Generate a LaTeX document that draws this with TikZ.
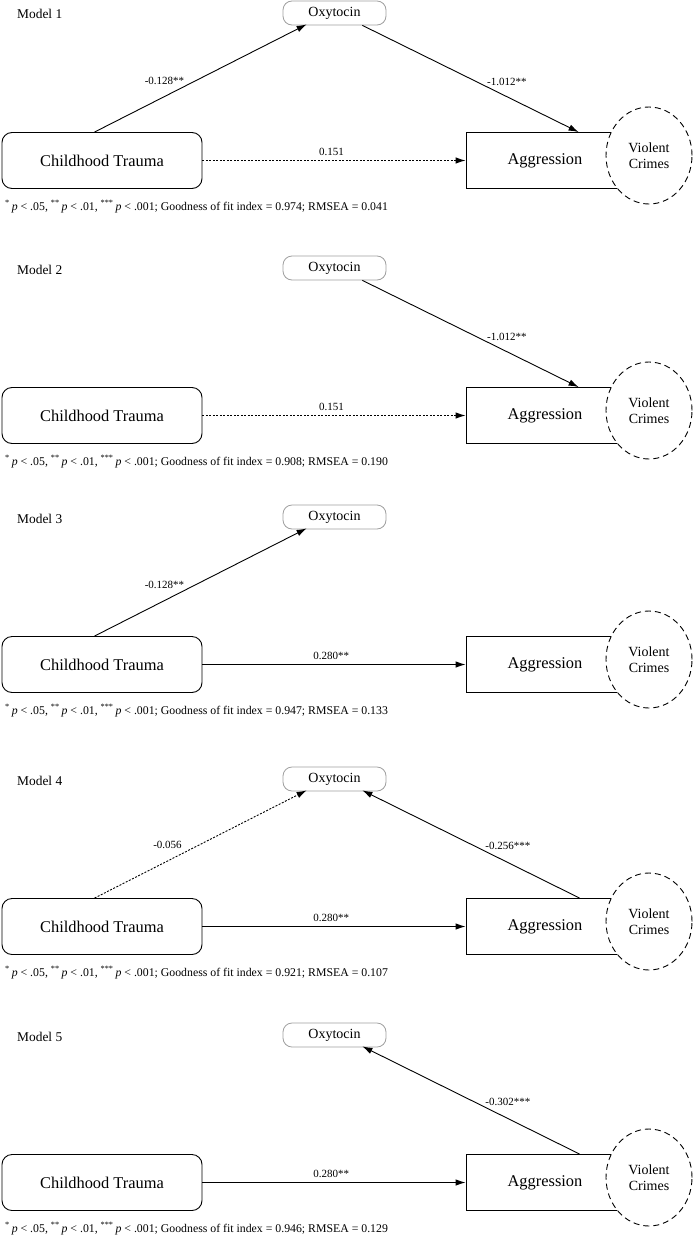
\documentclass[tikz,border=0pt]{standalone}
\usepackage{fontspec}
\setmainfont{Liberation Serif}
\newfontfamily\tnr{Liberation Serif}
\usetikzlibrary{arrows.meta,shapes.geometric,calc}
\tikzset{
  oxy/.style={draw=gray!75, line width=0.8pt, rounded corners=9pt, minimum width=103pt, minimum height=24pt, inner sep=0pt, font=\tnr\fontsize{14}{16}\selectfont},
  ctbox/.style={draw, line width=0.9pt, rounded corners=10pt, minimum width=200pt, minimum height=56pt, inner sep=0pt, font=\tnr\fontsize{16.4}{19}\selectfont},
  aggbox/.style={draw, line width=0.9pt, minimum width=158pt, minimum height=56pt, inner sep=0pt, font=\tnr\fontsize{16.4}{19}\selectfont},
  vc/.style={draw, ellipse, line width=0.9pt, dash pattern=on 6pt off 4pt, fill=white, minimum width=86pt, minimum height=97pt, inner sep=0pt, align=center, font=\tnr\fontsize{14}{16}\selectfont},
  lbl/.style={font=\tnr\fontsize{11}{13}\selectfont, inner sep=0pt},
  arr/.style={-{Latex[length=10pt,width=6.5pt]}, line width=0.9pt},
  dotline/.style={dash pattern=on 2pt off 1.5pt},
  foot/.style={anchor=base west, inner sep=0pt, font=\tnr\fontsize{11.8}{13}\selectfont},
  modellbl/.style={anchor=base west, inner sep=0pt, font=\tnr\fontsize{13.4}{16}\selectfont}
}
\newcommand{\semmodel}[4]{%
  \node[modellbl] (m#1) at (17,#2+6) {Model #1};
  \node[oxy] (oxy#1) at (334.5,#2) {Oxytocin};
  \node[ctbox] (ct#1) at (102,#2+147.5) {Childhood Trauma};
  \node[aggbox] (agg#1) at (545,#2+147.5) {Aggression};
  \node[vc] (vc#1) at (649,#2+142.5) {Violent\\Crimes};
  \node[foot] (f#1) at (5,#2+197) {\textsuperscript{*}\,\textit{p} < .05, \textsuperscript{**}\,\textit{p} < .01, \textsuperscript{***}\,\textit{p} < .001; Goodness of fit index = #3; RMSEA = #4};
}
\begin{document}
\begin{tikzpicture}[x=1pt,y=-1pt]
\useasboundingbox[fill=white] (0,0) rectangle (693,1239);

% Model 1
\semmodel{1}{13}{0.974}{0.041}
\draw[arr] ($(ct1.north west)+(93,0)$) -- node[lbl,pos=0.33,yshift=16pt]{-0.128**} ($(oxy1.south west)+(24,-1)$);
\draw[arr] ($(oxy1.south east)+(-24,0)$) -- node[lbl,pos=0.668,yshift=15pt]{-1.012**} ($(agg1.north west)+(113,0)$);
\draw[arr,dotline] (ct1.east) -- node[lbl,pos=0.49,yshift=9pt]{0.151} (agg1.west);

% Model 2
\semmodel{2}{268}{0.908}{0.190}
\draw[arr] ($(oxy2.south east)+(-24,0)$) -- node[lbl,pos=0.668,yshift=15pt]{-1.012**} ($(agg2.north west)+(113,0)$);
\draw[arr,dotline] (ct2.east) -- node[lbl,pos=0.49,yshift=9pt]{0.151} (agg2.west);

% Model 3
\semmodel{3}{517}{0.947}{0.133}
\draw[arr] ($(ct3.north west)+(93,0)$) -- node[lbl,pos=0.33,yshift=16pt]{-0.128**} ($(oxy3.south west)+(24,-1)$);
\draw[arr] (ct3.east) -- node[lbl,pos=0.49,yshift=9pt]{0.280**} (agg3.west);

% Model 4
\semmodel{4}{779}{0.921}{0.107}
\draw[arr,dotline] ($(ct4.north west)+(93,0)$) -- node[lbl,pos=0.344,yshift=16pt]{-0.056} ($(oxy4.south west)+(24,-1)$);
\draw[arr] ($(agg4.north west)+(114,0)$) -- node[lbl,pos=0.33,yshift=17pt]{-0.256***} ($(oxy4.south east)+(-24,-1)$);
\draw[arr] (ct4.east) -- node[lbl,pos=0.49,yshift=9pt]{0.280**} (agg4.west);

% Model 5
\semmodel{5}{1035}{0.946}{0.129}
\draw[arr] ($(agg5.north west)+(114,0)$) -- node[lbl,pos=0.33,yshift=17pt]{-0.302***} ($(oxy5.south east)+(-24,-1)$);
\draw[arr] (ct5.east) -- node[lbl,pos=0.49,yshift=9pt]{0.280**} (agg5.west);
\end{tikzpicture}
\end{document}
